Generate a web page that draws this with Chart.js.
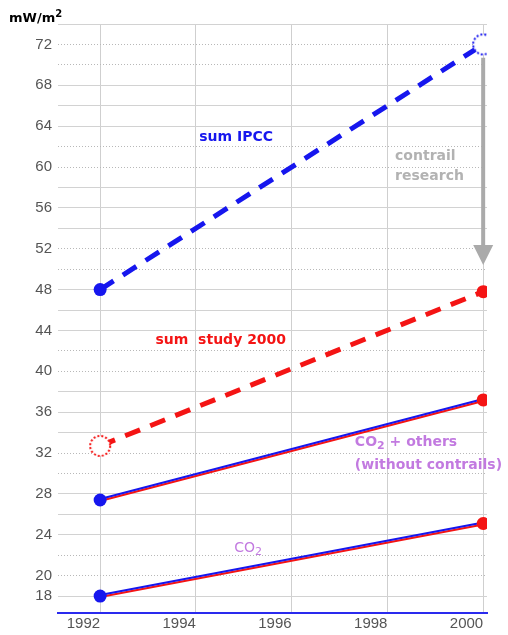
<!DOCTYPE html>
<html>
<head>
<meta charset="utf-8">
<script src="https://cdn.jsdelivr.net/npm/chart.js@4.4.0/dist/chart.umd.min.js"></script>
<style>
  html, body { margin: 0; padding: 0; background: #fff; }
  #wrap { width: 508px; height: 635px; position: relative; }
</style>
</head>
<body>
<div id="wrap"><canvas id="myChart"></canvas></div>
<script>
// DATA
const years = [1992, 2000];
const sumIpcc = [48, 72];
const sumStudy = [32.7, 47.8];
const co2Others = [27.4, 37.2];
const co2 = [18, 25.1];
const xTicks = [1992, 1994, 1996, 1998, 2000];
const yGrid = [18, 20, 22, 24, 26, 28, 30, 32, 34, 36, 38, 40, 42, 44, 46, 48, 50, 52, 54, 56, 58, 60, 62, 64, 66, 68, 70, 72, 74];
const yLabels = [18, 20, 24, 28, 32, 36, 40, 44, 48, 52, 56, 60, 64, 68, 72];
const arrowRange = [70.7, 50.4];

const BLUE = "#1616ee";
const RED = "#f41414";
const PURPLE = "#c27ae0";
const GRAY = "#b2b2b2";

const canvasChart = document.getElementById("myChart");

function pts(values) {
  return years.map((x, i) => ({ x: x, y: values[i] }));
}

// dotted open circle used as point style
function ring(color) {
  const c = document.createElement("canvas");
  c.width = 24;
  c.height = 24;
  const g = c.getContext("2d");
  g.beginPath();
  g.arc(12, 12, 10, 0, Math.PI * 2);
  g.fillStyle = "#fff";
  g.fill();
  g.setLineDash([2, 2]);
  g.lineWidth = 2;
  g.strokeStyle = color;
  g.stroke();
  return c;
}

// text notes, placed in data coordinates
const notes = [
  { parts: [{ t: "sum IPCC" }], x: 1994.84, y: 62.86, align: "center", weight: "bold", color: BLUE },
  { parts: [{ t: "sum  study 2000" }], x: 1994.52, y: 43.0, align: "center", weight: "bold", color: RED },
  { parts: [{ t: "contrail" }], x: 1998.16, y: 61.0, align: "left", weight: "bold", color: GRAY },
  { parts: [{ t: "research" }], x: 1998.16, y: 59.04, align: "left", weight: "bold", color: GRAY },
  { parts: [{ t: "CO" }, { t: "2", sub: true }, { t: " + others" }], x: 1997.32, y: 33.04, align: "left", weight: "bold", color: PURPLE },
  { parts: [{ t: "(without contrails)" }], x: 1997.32, y: 30.8, align: "left", weight: "bold", color: PURPLE },
  { parts: [{ t: "CO" }, { t: "2", sub: true }], x: 1995.09, y: 22.68, align: "center", weight: "normal", color: PURPLE },
];

function drawRich(ctx, parts, x, y, size, weight, align) {
  const fontOf = (p) => weight + " " + (p.sub || p.sup ? Math.round(size * 0.75) : size) + 'px "DejaVu Sans"';
  let w = 0;
  parts.forEach((p) => {
    ctx.font = fontOf(p);
    w += ctx.measureText(p.t).width;
  });
  let cx = align === "center" ? x - w / 2 : x;
  ctx.textAlign = "left";
  ctx.textBaseline = "middle";
  parts.forEach((p) => {
    ctx.font = fontOf(p);
    let dy = p.sub ? size * 0.3 : p.sup ? -size * 0.35 : 0;
    ctx.fillText(p.t, cx, y + dy);
    cx += ctx.measureText(p.t).width;
  });
}

// shift the paired blue / red lines apart a little
const shiftPlugin = {
  id: "shift",
  beforeDatasetDraw(chart, args) {
    const s = chart.data.datasets[args.index].shift || 0;
    chart.ctx.save();
    chart.ctx.translate(0, s);
  },
  afterDatasetDraw(chart) {
    chart.ctx.restore();
  },
};

const notesPlugin = {
  id: "notes",
  afterDraw(chart) {
    const ctx = chart.ctx;
    const xs = chart.scales.x;
    const ys = chart.scales.y;
    const area = chart.chartArea;
    ctx.save();

    // contrail research arrow
    const ax = xs.getPixelForValue(years[1]);
    const y0 = ys.getPixelForValue(arrowRange[0]);
    const y1 = ys.getPixelForValue(arrowRange[1]);
    ctx.strokeStyle = "#aaaaaa";
    ctx.fillStyle = "#aaaaaa";
    ctx.lineWidth = 4;
    ctx.beginPath();
    ctx.moveTo(ax, y0);
    ctx.lineTo(ax, y1 - 18);
    ctx.stroke();
    ctx.beginPath();
    ctx.moveTo(ax - 10, y1 - 20);
    ctx.lineTo(ax + 10, y1 - 20);
    ctx.lineTo(ax, y1);
    ctx.closePath();
    ctx.fill();

    notes.forEach((n) => {
      ctx.fillStyle = n.color;
      drawRich(ctx, n.parts, xs.getPixelForValue(n.x), ys.getPixelForValue(n.y), 14, n.weight, n.align);
    });

    // unit title
    ctx.fillStyle = "#000";
    drawRich(ctx, [{ t: "mW/m" }, { t: "2", sup: true }], area.left - 49, area.top - 5, 13, "bold", "left");
    ctx.restore();
  },
};

// solid pair: blue line on top edge, red line on bottom edge, dots drawn last
function pair(values) {
  return [
    {
      data: pts(values),
      showLine: false,
      pointRadius: 6.5,
      pointBackgroundColor: [BLUE, RED],
      pointBorderWidth: 0,
    },
    { data: pts(values), borderColor: BLUE, borderWidth: 2, shift: -1, pointRadius: 0 },
    { data: pts(values), borderColor: RED, borderWidth: 2, shift: 1, pointRadius: 0 },
  ];
}

new Chart(canvasChart, {
  type: "line",
  data: {
    datasets: [
      {
        data: pts(sumIpcc),
        borderColor: BLUE,
        borderWidth: 5,
        borderDash: [16, 11],
        pointStyle: ["circle", ring(BLUE)],
        pointRadius: 6.5,
        pointBackgroundColor: BLUE,
        pointBorderWidth: 0,
      },
      {
        data: pts(sumStudy),
        borderColor: RED,
        borderWidth: 5,
        borderDash: [16, 11],
        pointStyle: [ring(RED), "circle"],
        pointRadius: 6.5,
        pointBackgroundColor: RED,
        pointBorderWidth: 0,
      },
      ...pair(co2Others),
      ...pair(co2),
    ],
  },
  options: {
    responsive: true,
    maintainAspectRatio: false,
    animation: false,
    layout: { padding: { top: 24, right: 21, left: 0, bottom: 0 } },
    plugins: { legend: { display: false }, tooltip: { enabled: false } },
    scales: {
      x: {
        type: "linear",
        min: 1991.12,
        max: 2000.08,
        afterBuildTicks: (axis) => {
          axis.ticks = xTicks.map((v) => ({ value: v }));
        },
        ticks: {
          align: "end",
          padding: 2,
          color: "#555",
          font: { family: '"Liberation Sans", Arial', size: 15 },
          callback: (v) => String(v),
        },
        grid: { color: "#cfcfcf", lineWidth: 1, drawTicks: false },
        border: { color: "#2a2aee", width: 2 },
      },
      y: {
        min: 16.34,
        max: 74,
        afterBuildTicks: (axis) => {
          axis.ticks = yGrid.map((v) => ({ value: v }));
        },
        afterFit: (axis) => {
          axis.width = 58;
        },
        ticks: {
          padding: 6,
          color: "#555",
          font: { family: '"Liberation Sans", Arial', size: 15 },
          callback: (v) => (yLabels.includes(v) ? String(v) : ""),
        },
        grid: {
          color: (c) => {
            const m = ((c.tick.value % 10) + 10) % 10;
            return m === 0 || m === 2 ? "#b8b8b8" : "#d2d2d2";
          },
          lineWidth: 1,
          drawTicks: false,
        },
        border: {
          display: false,
          dash: (c) => {
            if (!c.tick) return [];
            const m = ((c.tick.value % 10) + 10) % 10;
            return m === 0 || m === 2 ? [1, 2] : [];
          },
        },
      },
    },
  },
  plugins: [shiftPlugin, notesPlugin],
});
</script>
</body>
</html>
